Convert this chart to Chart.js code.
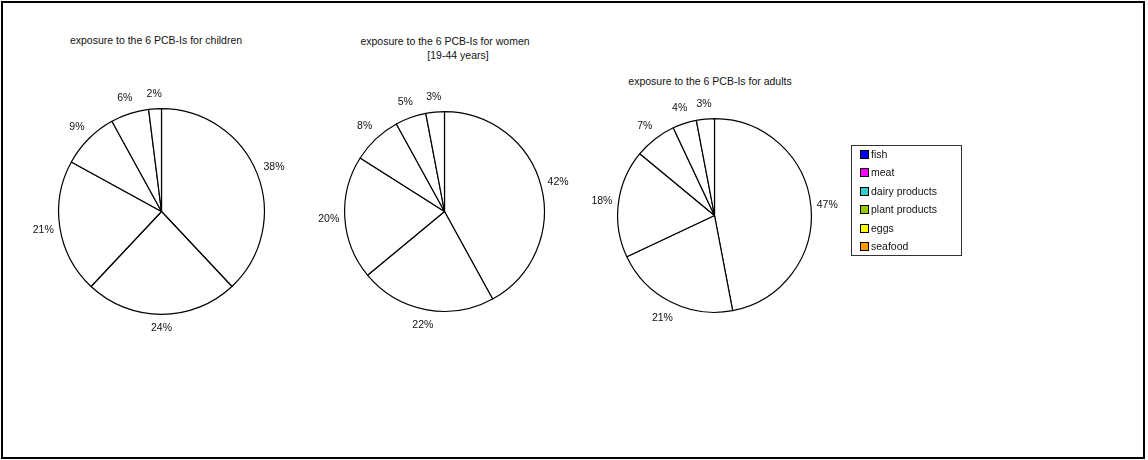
<!DOCTYPE html>
<html>
<head>
<meta charset="utf-8">
<script src="https://cdn.jsdelivr.net/npm/chart.js@4/dist/chart.umd.min.js"></script>
<style>
  body { margin: 0; background: #fff; font-family: "Liberation Sans", Arial, sans-serif; }
  #wrap { position: relative; width: 1148px; height: 460px; }
  #frame { position: absolute; left: 1px; top: 1px; width: 1144px; height: 458px; box-sizing: border-box; border: 2px solid #000; }
  .ttl { position: absolute; font-size: 10.5px; color: #111; white-space: nowrap; transform: translate(-50%, -50%); }
  canvas { position: absolute; }
  #legend { position: absolute; left: 851px; top: 145px; width: 111px; height: 111px; box-sizing: border-box; border: 1px solid #333; }
  .li { position: absolute; left: 8px; font-size: 10.5px; color: #111; white-space: nowrap; line-height: 12px; }
  .li span { display: inline-block; width: 7px; height: 7px; border: 1px solid #000; margin-right: 2px; vertical-align: -1px; }
</style>
</head>
<body>
<div id="wrap">
  <div id="frame"></div>
  <div class="ttl" style="left:156px; top:40px;">exposure to the 6 PCB-Is for children</div>
  <div class="ttl" style="left:445px; top:41px;">exposure to the 6 PCB-Is for women</div>
  <div class="ttl" style="left:458px; top:55px;">[19-44 years]</div>
  <div class="ttl" style="left:710px; top:81px;">exposure to the 6 PCB-Is for adults</div>
  <canvas id="pie1"></canvas>
  <canvas id="pie2"></canvas>
  <canvas id="pie3"></canvas>
  <div id="legend"></div>
</div>
<script>
var categories = ['fish', 'meat', 'dairy products', 'plant products', 'eggs', 'seafood'];
var children = [38, 24, 21, 9, 6, 2];
var women = [42, 22, 20, 8, 5, 3];
var adults = [47, 21, 18, 7, 4, 3];
var legendColors = ['#0000FF', '#FF00FF', '#33CCCC', '#99CC00', '#FFFF00', '#FF9900'];

// labels outside each slice, placed along the mid angle
var outLabels = {
    id: 'outLabels',
    afterDatasetsDraw: function(chart) {
        var ctx = chart.ctx;
        var data = chart.data.datasets[0].data;
        ctx.save();
        ctx.font = '10.5px "Liberation Sans", Arial, sans-serif';
        ctx.fillStyle = '#111';
        ctx.textAlign = 'center';
        ctx.textBaseline = 'middle';
        chart.getDatasetMeta(0).data.forEach(function(arc, i) {
            var p = arc.getProps(['x', 'y', 'startAngle', 'endAngle', 'outerRadius'], true);
            var mid = (p.startAngle + p.endAngle) / 2;
            var txt = data[i] + '%';
            var hw = ctx.measureText(txt).width / 2;
            var hh = 9;
            var c = Math.cos(mid), s = Math.sin(mid);
            var d = p.outerRadius + 5 + hw * Math.abs(c) + hh * Math.abs(s);
            ctx.fillText(txt, p.x + c * d, p.y + s * d);
        });
        ctx.restore();
    }
};

function makePie(id, values, cx, cy, r) {
    var pad = 40;
    var el = document.getElementById(id);
    var size = 2 * r + 1 + 2 * pad;
    el.width = size;
    el.height = size;
    el.style.left = (cx - r - pad) + 'px';
    el.style.top = (cy - r - pad) + 'px';
    return new Chart(el, {
        type: 'pie',
        data: {
            labels: categories,
            datasets: [{
                data: values,
                backgroundColor: '#FFFFFF',
                borderColor: '#000000',
                borderWidth: 1.2
            }]
        },
        options: {
            responsive: false,
            animation: false,
            layout: { padding: pad },
            plugins: { legend: { display: false }, tooltip: { enabled: false } }
        },
        plugins: [outLabels]
    });
}

makePie('pie1', children, 161, 211, 103);
makePie('pie2', women, 444, 211, 100);
makePie('pie3', adults, 714, 215, 97);

var lg = document.getElementById('legend');
categories.forEach(function(name, i) {
    var d = document.createElement('div');
    d.className = 'li';
    d.style.top = (2 + i * 18.4) + 'px';
    d.innerHTML = '<span style="background:' + legendColors[i] + '"></span>' + name;
    lg.appendChild(d);
});
</script>
</body>
</html>
